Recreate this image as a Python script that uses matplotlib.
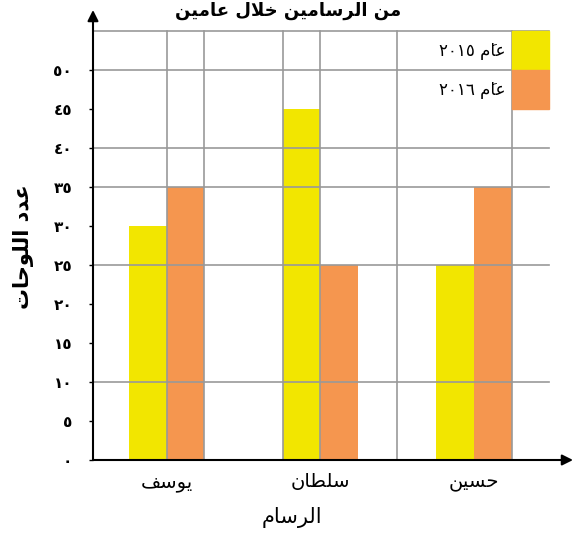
import matplotlib
matplotlib.use("Agg")
import matplotlib.pyplot as plt
from matplotlib.patches import Rectangle

# chart data
painters = ['يوسف', 'سلطان', 'حسين']
counts_2015 = [30, 45, 25]
counts_2016 = [35, 25, 35]
years = ['٢٠١٥', '٢٠١٦']
y_ticks = list(range(0, 55, 5))
grid_levels = [10, 25, 35, 40, 50, 55]

title = 'من الرسامين خلال عامين'
ylabel = 'عدد اللوحات'
xlabel = 'الرسام'
year_word = 'عامَ'

YELLOW = '#f2e600'
ORANGE = '#f5964f'
GRID = '#999999'

# --- crude arabic shaping (no reshaper available) ---
FORMS = {
    'ا': (0xFE8D, 0xFE8E, None, None),
    'ت': (0xFE95, 0xFE96, 0xFE97, 0xFE98),
    'ح': (0xFEA1, 0xFEA2, 0xFEA3, 0xFEA4),
    'خ': (0xFEA5, 0xFEA6, 0xFEA7, 0xFEA8),
    'د': (0xFEA9, 0xFEAA, None, None),
    'ر': (0xFEAD, 0xFEAE, None, None),
    'س': (0xFEB1, 0xFEB2, 0xFEB3, 0xFEB4),
    'ط': (0xFEC1, 0xFEC2, 0xFEC3, 0xFEC4),
    'ع': (0xFEC9, 0xFECA, 0xFECB, 0xFECC),
    'ف': (0xFED1, 0xFED2, 0xFED3, 0xFED4),
    'ل': (0xFEDD, 0xFEDE, 0xFEDF, 0xFEE0),
    'م': (0xFEE1, 0xFEE2, 0xFEE3, 0xFEE4),
    'ن': (0xFEE5, 0xFEE6, 0xFEE7, 0xFEE8),
    'و': (0xFEED, 0xFEEE, None, None),
    'ي': (0xFEF1, 0xFEF2, 0xFEF3, 0xFEF4),
    '\uFEFB': (0xFEFB, 0xFEFC, None, None),  # lam-alef
}
MARKS = '\u064E'


def shape(text):
    text = text.replace('لا', '\uFEFB')
    chars = list(text)
    n = len(chars)
    clusters = []
    for i, c in enumerate(chars):
        if c in MARKS and clusters:
            clusters[-1] += c
            continue
        if c not in FORMS:
            clusters.append(c)
            continue
        j = i - 1
        while j >= 0 and chars[j] in MARKS:
            j -= 1
        k = i + 1
        while k < n and chars[k] in MARKS:
            k += 1
        prev_j = j >= 0 and chars[j] in FORMS and FORMS[chars[j]][2] is not None
        next_j = k < n and chars[k] in FORMS and FORMS[c][2] is not None
        iso, fin, ini, med = FORMS[c]
        if prev_j and next_j:
            g = med
        elif prev_j:
            g = fin
        elif next_j:
            g = ini
        else:
            g = iso
        clusters.append(chr(g))
    return ''.join(reversed(clusters))


def ar_digits(v):
    return str(v).translate(str.maketrans('0123456789', '٠١٢٣٤٥٦٧٨٩'))


plt.rcParams['font.family'] = ['DejaVu Sans']

fig = plt.figure(figsize=(5.75, 5.42), dpi=100)
ax = fig.add_axes([93 / 575, 82 / 542, 480 / 575, 450 / 542])

w = 0.245
x = list(range(len(painters)))
ax.bar([i - w / 2 for i in x], counts_2015, width=w, color=YELLOW, zorder=1)
ax.bar([i + w / 2 for i in x], counts_2016, width=w, color=ORANGE, zorder=1)

grid_end = x[-1] + 2 * w
top = grid_levels[-1]
for lv in grid_levels:
    ax.plot([-0.48, grid_end], [lv, lv], color=GRID, lw=1.2, zorder=2)
vlines = [x[0], x[0] + w, x[1] - w, x[1], (x[1] + x[2]) / 2, x[2] + w]
for v in vlines:
    ax.plot([v, v], [0, top], color=GRID, lw=1.2, zorder=2)

# legend squares in the top right corner of the grid
for k, (col, yr) in enumerate(zip([YELLOW, ORANGE], years)):
    y0 = top - 5 * (k + 1)
    ax.add_patch(Rectangle((x[-1] + w, y0), w, 5, color=col, zorder=3))
    ax.text(x[-1] + w - 0.04, y0 + 2.5, yr + ' ' + shape(year_word),
            ha='right', va='center', fontsize=12, zorder=4,
            bbox=dict(facecolor='white', edgecolor='none', pad=0.5))

ax.set_xlim(-0.48, 2.645)
ax.set_ylim(0, 57.7)

for s in ax.spines.values():
    s.set_visible(False)
ax.annotate('', xy=(0, 1), xytext=(0, 0), xycoords='axes fraction',
            arrowprops=dict(arrowstyle='-|>', color='black', lw=1.5,
                            mutation_scale=16, shrinkA=0, shrinkB=0))
ax.annotate('', xy=(1, 0), xytext=(0, 0), xycoords='axes fraction',
            arrowprops=dict(arrowstyle='-|>', color='black', lw=1.5,
                            mutation_scale=16, shrinkA=0, shrinkB=0))

ax.set_yticks(y_ticks)
ax.set_yticklabels([ar_digits(t) for t in y_ticks], fontsize=11,
                   fontweight='bold')
ax.tick_params(axis='y', length=3, width=1, pad=12)
ax.set_xticks(x)
ax.set_xticklabels([shape(p) for p in painters], fontsize=14)
ax.tick_params(axis='x', length=0, pad=9)

fig.text(23 / 575, 1 - 247 / 542, shape(ylabel), rotation=90, ha='center',
         va='center', fontsize=15, fontweight='bold')
fig.text(292 / 575, 1 - 517 / 542, shape(xlabel), ha='center', va='center',
         fontsize=15)
fig.text(288 / 575, 1 - 2 / 542, shape(title), ha='center', va='top',
         fontsize=13, fontweight='bold')

fig.savefig('out.png', dpi=100)
